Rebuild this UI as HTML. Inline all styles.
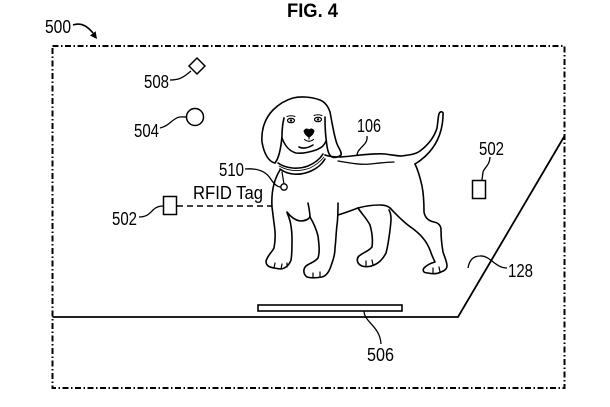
<!DOCTYPE html>
<html>
<head>
<meta charset="utf-8">
<style>
  html,body{margin:0;padding:0;background:#fff;}
  body{width:610px;height:407px;overflow:hidden;}
  svg{display:block;}
  text{font-family:"Liberation Sans",Arial,sans-serif;fill:#000;}
</style>
</head>
<body>
<svg width="610" height="407" viewBox="0 0 610 407" xmlns="http://www.w3.org/2000/svg">
  <rect width="610" height="407" fill="#fff"/>

  <!-- Title -->
  <text x="287" y="17" font-size="19" font-weight="bold" textLength="51" lengthAdjust="spacingAndGlyphs">FIG. 4</text>

  <!-- 500 label + arrow -->
  <text x="45" y="33" font-size="18.5" textLength="26" lengthAdjust="spacingAndGlyphs">500</text>
  <path d="M73,25 C82,22 88,27 93,33" fill="none" stroke="#000" stroke-width="1.6"/>
  <polygon points="97,39 90,35.5 95.6,31.3" fill="#000"/>

  <!-- Dash-dot boundary -->
  <rect x="52.5" y="46" width="512" height="342" fill="none" stroke="#000" stroke-width="2" stroke-dasharray="6 2.5 1.5 2.5"/>

  <!-- Floor outline 128 -->
  <path d="M52.5,317 L458,317 L564.5,136" fill="none" stroke="#000" stroke-width="1.8"/>

  <!-- Mat 506 -->
  <rect x="258" y="305" width="144" height="6" fill="#fff" stroke="#000" stroke-width="1.6"/>
  <path d="M364,311 C364,322 380,326 381,344" fill="none" stroke="#000" stroke-width="1.3"/>
  <text x="367" y="361" font-size="18.5" textLength="27" lengthAdjust="spacingAndGlyphs">506</text>

  <!-- 508 diamond -->
  <polygon points="197,58 205,66 197,74 189,66" fill="#fff" stroke="#000" stroke-width="1.5"/>
  <path d="M170,80 C178,80 182,78 186,75 L191,71" fill="none" stroke="#000" stroke-width="1.3"/>
  <text x="144" y="88" font-size="18.5" textLength="25" lengthAdjust="spacingAndGlyphs">508</text>

  <!-- 504 circle -->
  <circle cx="195" cy="117" r="8.5" fill="#fff" stroke="#000" stroke-width="1.5"/>
  <path d="M160,128 C168,126 170,122 175,119 C179,116 183,117 186.5,117" fill="none" stroke="#000" stroke-width="1.3"/>
  <text x="134" y="137" font-size="18.5" textLength="25" lengthAdjust="spacingAndGlyphs">504</text>

  <!-- 502 left -->
  <rect x="163.5" y="196.5" width="13" height="18" fill="#fff" stroke="#000" stroke-width="1.5"/>
  <path d="M139,217 C147,217 150,213 153,210 C156,207 159,206 163,206" fill="none" stroke="#000" stroke-width="1.3"/>
  <text x="112" y="225" font-size="18.5" textLength="25" lengthAdjust="spacingAndGlyphs">502</text>
  <path d="M177,206 L272,206" fill="none" stroke="#000" stroke-width="1.4" stroke-dasharray="6 4"/>

  <!-- RFID Tag & 510 -->
  <text x="193" y="199" font-size="18.5" textLength="70" lengthAdjust="spacingAndGlyphs">RFID Tag</text>
  <text x="219" y="176" font-size="18.5" textLength="25" lengthAdjust="spacingAndGlyphs">510</text>
  <path d="M245,169 C258,168 266,172 270,178 C274,184 277,187 281,187" fill="none" stroke="#000" stroke-width="1.3"/>

  <!-- 502 right -->
  <rect x="472.5" y="180.5" width="13" height="18" fill="#fff" stroke="#000" stroke-width="1.5"/>
  <path d="M490,157 C490,165 484,168 483,172 L482,180" fill="none" stroke="#000" stroke-width="1.3"/>
  <text x="479" y="155" font-size="18.5" textLength="25" lengthAdjust="spacingAndGlyphs">502</text>

  <!-- 128 -->
  <path d="M507,268 C495,268 490,255 480,256 C472,256 469,262 468,268" fill="none" stroke="#000" stroke-width="1.3"/>
  <text x="508" y="277" font-size="18.5" textLength="25" lengthAdjust="spacingAndGlyphs">128</text>

  <!-- 106 -->
  <text x="357" y="132" font-size="18.5" textLength="24" lengthAdjust="spacingAndGlyphs">106</text>
  <path d="M367,136 C368,143 362,146 360,149 C358,151 357,153 357,156" fill="none" stroke="#000" stroke-width="1.3"/>

  <!-- Dog -->
  <g fill="none" stroke="#000" stroke-width="1.6" stroke-linejoin="round" stroke-linecap="round">
    <!-- head outline with ears -->
    <path d="M275,163 C269,162 264,154 262,142 C261,130 265,118 273,110 C279,104 286,100 293,98 C301,96 312,97 320,100 C325,102 328,106 330,112 C332,122 334,136 337,144 C339,149 342,152 341,155 C339,157 335,158 332,157 C328,155 327,148 326,138 C325,130 325,122 325,117"/>
    <!-- left ear inner -->
    <path d="M275,163 C279,158 281,148 282,136 C282,128 283,122 284,118"/>
    <!-- face lower / muzzle -->
    <path d="M282,138 C285,146 289,151 296,153 C303,154 310,152 316,150 C321,148 324,146 326,141"/>
    <path d="M299,147 C303,149 308,148 313,145"/>
    <!-- eyes -->
    <ellipse cx="291" cy="120.5" rx="3.5" ry="2.2" stroke-width="1.2"/>
    <ellipse cx="318" cy="119.5" rx="3.5" ry="2.2" stroke-width="1.2"/>
    <circle cx="291" cy="120.5" r="1.2" fill="#000" stroke="none"/>
    <circle cx="318" cy="119.5" r="1.2" fill="#000" stroke="none"/>
    <path d="M287,116.5 Q291,115 295,116.5" stroke-width="1"/>
    <path d="M314,115.5 Q318,114 322,115.5" stroke-width="1"/>
    <!-- nose + mouth -->
    <path d="M304,131 Q306,127.5 309,130 Q312,127.5 314,131 Q313,135 309,137 Q305,135 304,131Z" fill="#000" stroke-width="1"/>
    <path d="M309,137 L309,139 M304.5,139.5 Q309,143 313.5,139.5" stroke-width="1.1"/>
    <!-- collar -->
    <path d="M278,163 C285,168 297,170 308,166 C315,163 320,159 323,154"/>
    <path d="M280,169 C288,175 300,176 311,171 C318,168 322,164 325,159"/>
    <path d="M279,166 C288,171 299,172 310,168 C316,165 320,162 324,157" stroke-width="0.8"/>
    <path d="M325,155 C330,157 336,157 341,157"/>
    <!-- tag -->
    <path d="M282,172 L284,184" stroke-width="1.2"/>
    <circle cx="284" cy="187" r="3.2" stroke-width="1.3" fill="#fff"/>
    <!-- back line -->
    <path d="M341,157 C355,156 370,153 385,154 C393,155 397,156 401,156"/>
    <!-- fur line -->
    <path d="M338,161 C350,163 360,165 370,164 C380,163 388,162 394,162" stroke-width="1.3"/>
    <!-- tail -->
    <path d="M401,156 C410,155 416,154 420,151 C428,145 434,138 437,128 C438,122 438,117 439,114 C440,111 444,111 443,115 C443,120 442,126 441,130 C438,142 430,155 415,164"/>
    <!-- chest + left front leg -->
    <path d="M280,170 C275,178 271,190 272,207 L274,223 C275,230 276,237 274,248 C272,252 268,255 266,261 C266,265 268,267 274,268 L280,269 C284,269 289,266 291,260 C292,255 292,250 292,240 C292,230 291,222 288,215 C287,213 287,212 287,212 C290,216 294,220 300,221 C304,221 308,220 310,217"/>
    <path d="M274,268 L275,263 M281,269 L282,264 M287,267 L287,263" stroke-width="1.2"/>
    <!-- elbow line -->
    <path d="M308,203 C309,208 310,213 310,217"/>
    <!-- right front leg -->
    <path d="M310,217 C313,222 316,228 318,236 C319,244 320,252 318,258 C315,262 310,263 306,266 C303,269 303,274 307,277 C310,278 316,278 322,277 C326,276 329,272 331,266 C333,260 335,255 335,248 C336,240 336,233 337,225 C338,218 338,210 338,203"/>
    <path d="M313,278 L313,273 M320,277 L320,272" stroke-width="1.2"/>
    <!-- belly -->
    <path d="M338,215 C345,213 350,211 358,208 C365,206 372,205 380,205 C385,205 388,206 390,208"/>
    <!-- near hind leg -->
    <path d="M358,208 C362,214 367,219 370,225 C372,232 373,240 372,247 C369,251 364,252 359,256 C356,259 357,264 362,266 C365,267 370,267 374,265 C379,263 383,259 386,253 C388,246 389,238 390,230 C391,222 392,215 389,210"/>
    <path d="M366,266 L366,261 M373,265 L372,260" stroke-width="1.2"/>
    <!-- far hind leg -->
    <path d="M390,208 C396,214 403,222 412,228 C420,234 426,240 430,250 C432,256 434,260 435,262 C431,263 427,265 424,268 C422,271 424,273 428,273 C432,274 437,274 441,272 C444,271 447,269 447,266 C447,262 445,258 443,252 C442,246 441,238 441,230 C441,226 439,223 434,222 C429,221 425,218 424,212 C424,205 424,196 422,186 C420,177 418,170 415,164"/>
    <path d="M433,273 L433,268 M440,272 L439,267" stroke-width="1.2"/>
  </g>
</svg>
</body>
</html>
